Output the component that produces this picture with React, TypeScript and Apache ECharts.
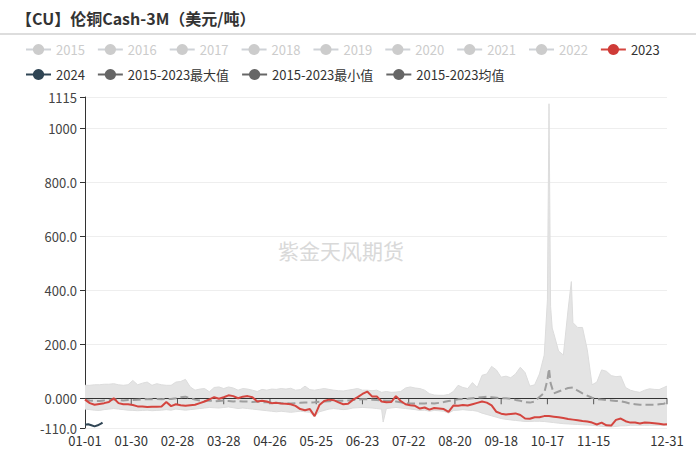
import React, { useEffect, useRef } from 'react';
import * as echarts from 'echarts';

// ---------- categories (leap-year calendar, MM-DD) ----------
const MONTH_LENGTHS = [31, 29, 31, 30, 31, 30, 31, 31, 30, 31, 30, 31];
const CATEGORIES: string[] = [];
MONTH_LENGTHS.forEach((len, m) => {
  for (let d = 1; d <= len; d++) {
    CATEGORIES.push(`${String(m + 1).padStart(2, '0')}-${String(d).padStart(2, '0')}`);
  }
});

// sampled day indices (every 3rd day + last day)
const SAMPLE_DAYS: number[] = [];
for (let d = 0; d <= 363; d += 3) SAMPLE_DAYS.push(d);
SAMPLE_DAYS.push(365);

const HIDDEN_YEARS = ['2015', '2016', '2017', '2018', '2019', '2020', '2021', '2022'];

// ---------- series values ----------
const VALUES_2023 = [
  -5, -18, -24, -21, -18, -14, 0, -18, -22, -22,
  -25, -30, -30, -32, -31, -31, -30, -14, -29, -22,
  -26, -28, -26, -24, -18, -12, -4, 4, -2, 4,
  11, 8, 0, 6, 8, 4, -12, -9, -12, -18,
  -17, -19, -20, -22, -28, -40, -44, -40, -66, -25,
  -10, -5, -7, -15, -22, -20, -6, 4, 16, 25,
  7, 7, -12, -15, -14, 8, -10, -22, -26, -28,
  -38, -34, -42, -36, -38, -40, -50, -27, -28, -25,
  -27, -22, -17, -12, -16, -26, -50, -57, -60, -58,
  -56, -62, -75, -76, -70, -70, -66, -66, -68, -70,
  -73, -77, -79, -81, -84, -86, -90, -97, -90, -100,
  -101, -80, -75, -85, -90, -90, -93, -90, -91, -92,
  -94, -97, -96,
];

const DAYS_2024 = [0, 2, 4, 6, 8, 10, 11];
const VALUES_2024 = [-98, -96, -100, -104, -100, -94, -90];

const MAX_VALUES = [
  48, 48, 50, 50, 52, 52, 54, 50, 48, 50,
  66, 50, 56, 60, 48, 54, 50, 48, 48, 60,
  62, 70, 42, 30, 34, 36, 24, 40, 42, 36,
  42, 38, 30, 36, 34, 30, 25, 33, 30, 34,
  33, 36, 34, 37, 30, 32, 45, 32, 30, 33,
  36, 33, 30, 28, 27, 30, 33, 36, 30, 30,
  28, 30, 22, 25, 22, 23, 25, 38, 42, 38,
  36, 30, 17, 12, 11, 11, 14, 25, 48, 40,
  36, 58, 40, 85, 90, 118, 105, 78, 82, 76,
  90, 115, 95, 45, 50, 90, 160, 1090, 240, 175,
  160, 330, 280, 262, 262, 180, 50, 60, 105, 100,
  84, 80, 82, 40, 30, 25, 22, 30, 35, 33,
  32, 40, 45,
];
const MAX_EXTRA_DAYS = [290, 292, 293, 305];
const MAX_EXTRA_VALUES = [364, 340, 260, 432];

const MIN_VALUES = [
  -40, -42, -44, -45, -42, -40, -38, -40, -42, -44,
  -45, -46, -45, -44, -46, -45, -44, -42, -44, -40,
  -42, -44, -42, -40, -38, -36, -34, -35, -36, -34,
  -32, -35, -38, -36, -38, -40, -42, -44, -46, -48,
  -50, -48, -50, -52, -50, -48, -50, -52, -68, -50,
  -45, -40, -38, -40, -42, -40, -36, -35, -34, -35,
  -36, -38, -40, -38, -36, -34, -36, -38, -40, -42,
  -45, -44, -48, -45, -46, -48, -55, -45, -44, -42,
  -44, -45, -48, -55, -60, -65, -70, -75, -78, -80,
  -82, -84, -86, -86, -85, -85, -86, -88, -90, -92,
  -94, -95, -96, -97, -98, -99, -100, -102, -104, -105,
  -106, -104, -102, -102, -100, -100, -100, -100, -100, -100,
  -100, -100, -100,
];
const MIN_EXTRA_DAYS = [187];
const MIN_EXTRA_VALUES = [-88];

const MEAN_VALUES = [
  -5, -8, -10, -10, -8, -6, -4, -6, -8, -6,
  -6, -5, -4, -3, -4, -3, -4, -2, -3, 0,
  4, 6, 0, -5, -8, -10, -8, -12, -10, -8,
  -10, -12, -10, -12, -12, -14, -12, -14, -15, -16,
  -17, -18, -18, -19, -18, -17, -16, -16, -15, -13,
  -12, -11, -10, -9, -9, -8, -6, -5, -4, -4,
  -5, -6, -8, -9, -9, -12, -15, -18, -19, -19,
  -19, -19, -18, -19, -17, -14, -10, -8, -4, -3,
  -2, 0, 2, 4, 6, 4, 2, 0, 0, -2,
  -6, -9, -14, -16, -12, 5, 20, 110, 18, 25,
  32, 38, 40, 28, 18, 10, 2, -3, -5, -7,
  -8, -10, -11, -15, -20, -22, -24, -24, -24, -24,
  -22, -20, -16,
];
const MEAN_EXTRA_DAYS = [290, 292];
const MEAN_EXTRA_VALUES = [68, 56];

// ---------- helpers ----------
function pairs(days: number[], values: number[], extraDays: number[] = [], extraValues: number[] = []) {
  const out: [number, number][] = days.map((d, i) => [d, values[i]]);
  extraDays.forEach((d, i) => out.push([d, extraValues[i]]));
  out.sort((a, b) => a[0] - b[0]);
  return out;
}

const FONT = '"Noto Sans CJK SC", "Noto Sans", sans-serif';
const LABEL_INTERVAL = (index: number) => (index % 29 === 0 && index <= 319) || index === 365;
// tick positions on the zero line = the labelled categories
const TICK_INDICES = CATEGORIES.map((_, i) => i).filter((i) => i > 0 && LABEL_INTERVAL(i));

export default function App() {
  const ref = useRef<HTMLDivElement>(null);

  useEffect(() => {
    document.body.style.margin = '0';
    if (!ref.current) return;
    const chart = echarts.init(ref.current, undefined, { renderer: 'svg' });

    const bandColor = '#e4e4e4';
    const hiddenSeries = HIDDEN_YEARS.map((y) => ({
      name: y,
      type: 'line',
      symbol: 'circle',
      showSymbol: false,
      data: [] as any[],
    }));

    const legendSelected: Record<string, boolean> = {};
    HIDDEN_YEARS.forEach((y) => (legendSelected[y] = false));

    const option: any = {
      animation: false,
      textStyle: { fontFamily: FONT },
      title: {
        text: '【CU】伦铜Cash-3M（美元/吨）',
        left: 11,
        top: 5,
        textStyle: { fontSize: 16, fontWeight: 'bold', color: '#333', fontFamily: FONT },
      },
      graphic: [
        {
          type: 'line',
          shape: { x1: 0, y1: 34, x2: 696, y2: 34 },
          style: { stroke: '#dddddd', lineWidth: 2 },
        },
        {
          type: 'text',
          x: 341,
          y: 250,
          style: {
            text: '紫金天风期货',
            font: `21px ${FONT}`,
            fill: '#d9d9d9',
            align: 'center',
            verticalAlign: 'middle',
          },
          z: 10,
        },
      ],
      legend: {
        left: 20,
        top: 38,
        width: 670,
        itemWidth: 25,
        itemHeight: 14,
        itemGap: 12,
        textStyle: { fontSize: 13, color: '#333', fontFamily: FONT },
        inactiveColor: '#cccccc',
        selected: legendSelected,
        data: [
          ...HIDDEN_YEARS,
          '2023',
          '2024',
          { name: '2015-2023最大值', itemStyle: { color: '#666' }, lineStyle: { color: '#666' } },
          { name: '2015-2023最小值', itemStyle: { color: '#666' }, lineStyle: { color: '#666' } },
          { name: '2015-2023均值', itemStyle: { color: '#666' }, lineStyle: { color: '#666', type: 'solid' } },
        ],
      },
      grid: { left: 85, right: 33, top: 97, bottom: 28, containLabel: false },
      xAxis: {
        type: 'category',
        data: CATEGORIES,
        boundaryGap: false,
        position: 'bottom',
        axisLine: { show: false, onZero: false },
        axisTick: { show: false },
        axisLabel: {
          interval: LABEL_INTERVAL,
          color: '#333',
          fontSize: 13,
          margin: 6,
          fontFamily: FONT,
        },
        splitLine: { show: false },
      },
      yAxis: {
        type: 'value',
        min: -110,
        max: 1115,
        axisLine: { show: true, lineStyle: { color: '#333' } },
        axisTick: { show: true, length: 5 },
        axisLabel: {
          color: '#444',
          fontSize: 13,
          fontFamily: FONT,
          formatter: (v: number) => (v === 0 ? '0.000' : v === 1000 || v === 1115 ? String(v) : v.toFixed(1)),
        },
        splitLine: { show: true, lineStyle: { color: '#eeeeee', width: 1 } },
      },
      series: [
        ...hiddenSeries,
        {
          name: '2015-2023最大值',
          type: 'line',
          symbol: 'circle',
          showSymbol: false,
          z: 1,
          color: '#666',
          lineStyle: { color: '#dcdcdc', width: 1 },
          areaStyle: { color: bandColor, opacity: 1 },
          data: pairs(SAMPLE_DAYS, MAX_VALUES, MAX_EXTRA_DAYS, MAX_EXTRA_VALUES),
        },
        {
          name: '2015-2023最小值',
          type: 'line',
          symbol: 'circle',
          showSymbol: false,
          z: 1,
          color: '#666',
          lineStyle: { color: '#dcdcdc', width: 1 },
          areaStyle: { color: bandColor, opacity: 1 },
          data: pairs(SAMPLE_DAYS, MIN_VALUES, MIN_EXTRA_DAYS, MIN_EXTRA_VALUES),
        },
        {
          name: 'zero-axis',
          type: 'scatter',
          silent: true,
          z: 5,
          symbol: 'rect',
          symbolSize: [1, 6],
          symbolOffset: [0, 3],
          itemStyle: { color: '#333' },
          data: TICK_INDICES.map((i) => [i, 0]),
          markLine: {
            silent: true,
            symbol: 'none',
            label: { show: false },
            lineStyle: { color: '#333', width: 1, type: 'solid' },
            data: [{ yAxis: 0 }],
          },
        },
        {
          name: '2015-2023均值',
          type: 'line',
          symbol: 'circle',
          showSymbol: false,
          z: 6,
          color: '#666',
          lineStyle: { color: '#9e9e9e', width: 2, type: 'dashed' },
          data: pairs(SAMPLE_DAYS, MEAN_VALUES, MEAN_EXTRA_DAYS, MEAN_EXTRA_VALUES),
        },
        {
          name: '2023',
          type: 'line',
          symbol: 'circle',
          showSymbol: false,
          z: 7,
          color: '#cf3b37',
          lineStyle: { color: '#d4453f', width: 2 },
          data: pairs(SAMPLE_DAYS, VALUES_2023),
        },
        {
          name: '2024',
          type: 'line',
          symbol: 'circle',
          showSymbol: false,
          z: 7,
          color: '#2f4554',
          lineStyle: { width: 2 },
          data: pairs(DAYS_2024, VALUES_2024),
        },
      ],
    };

    chart.setOption(option);
    return () => chart.dispose();
  }, []);

  return <div ref={ref} style={{ width: 700, height: 456 }} />;
}
